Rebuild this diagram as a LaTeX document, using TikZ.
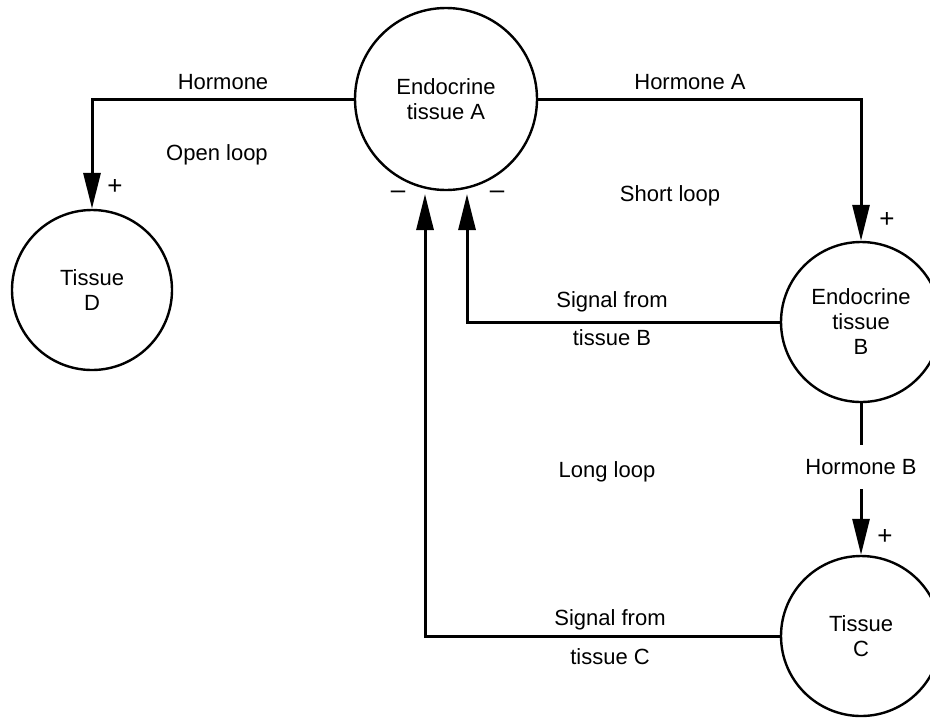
\documentclass[tikz,border=0pt]{standalone}
\usepackage{fontspec}
\setmainfont{Liberation Sans}
\usetikzlibrary{arrows.meta}

\tikzset{
  tissue/.style={circle, draw, line width=1.2pt, minimum size=#1,
                 inner sep=0pt, align=center,
                 font=\fontsize{11}{12.5}\selectfont},
  tissue/.default=80pt,
  signal/.style={line width=1.5pt, -{Triangle[length=18pt,width=8.5pt]}},
  lbl/.style={font=\fontsize{11}{13}\selectfont, inner sep=1pt},
  sign/.style={font=\fontsize{13}{13}\selectfont, inner sep=1pt},
}

\begin{document}
\begin{tikzpicture}[x=0.5pt, y=-0.5pt]
        \useasboundingbox (0,0) rectangle (930,718);
        % tissues
        \node[tissue=91pt] (A) at (446,99)  {Endocrine\\tissue A};
        \node[tissue]      (D) at (92,290)  {Tissue\\D};
        \node[tissue]      (B) at (861,322) {Endocrine\\tissue\\B};
        \node[tissue]      (C) at (861,636) {Tissue\\C};
        % feedback ends below A
        \coordinate (fbB) at (467,194);
        \coordinate (fbC) at (425,194);

        % hormones
        \draw[signal] (A.west) -| (D.north);
        \draw[signal] (A.east) -| (B.north);
        \draw[signal] (B.south) -- node[lbl, pos=0.42, fill=white,
              inner ysep=7pt] {Hormone B} (C.north);
        % feedback signals
        \draw[signal] (B.west) -| (fbB);
        \draw[signal] (C.west) -| (fbC);

        % labels
        \node[lbl] (lHorm)  at (223,82)  {Hormone};
        \node[lbl] (lHormA) at (690,82)  {Hormone A};
        \node[lbl] (lSigB1) at (612,302) {Signal from};
        \node[lbl] (lSigB2) at (612,338) {tissue B};
        \node[lbl] (lSigC1) at (610,620) {Signal from};
        \node[lbl] (lSigC2) at (610,657) {tissue C};
        \node[lbl] (lOpen)  at (217,155) {Open loop};
        \node[lbl] (lShort) at (670,196) {Short loop};
        \node[lbl] (lLong)  at (607,472) {Long loop};
        % signs
        \node[sign] (pD) at (115,187) {+};
        \node[sign] (pB) at (887,220) {+};
        \node[sign] (pC) at (885,537) {+};
        \node[sign] (mC) at (398,195) {\textendash};
        \node[sign] (mB) at (497,195) {\textendash};
      \end{tikzpicture}
\end{document}
